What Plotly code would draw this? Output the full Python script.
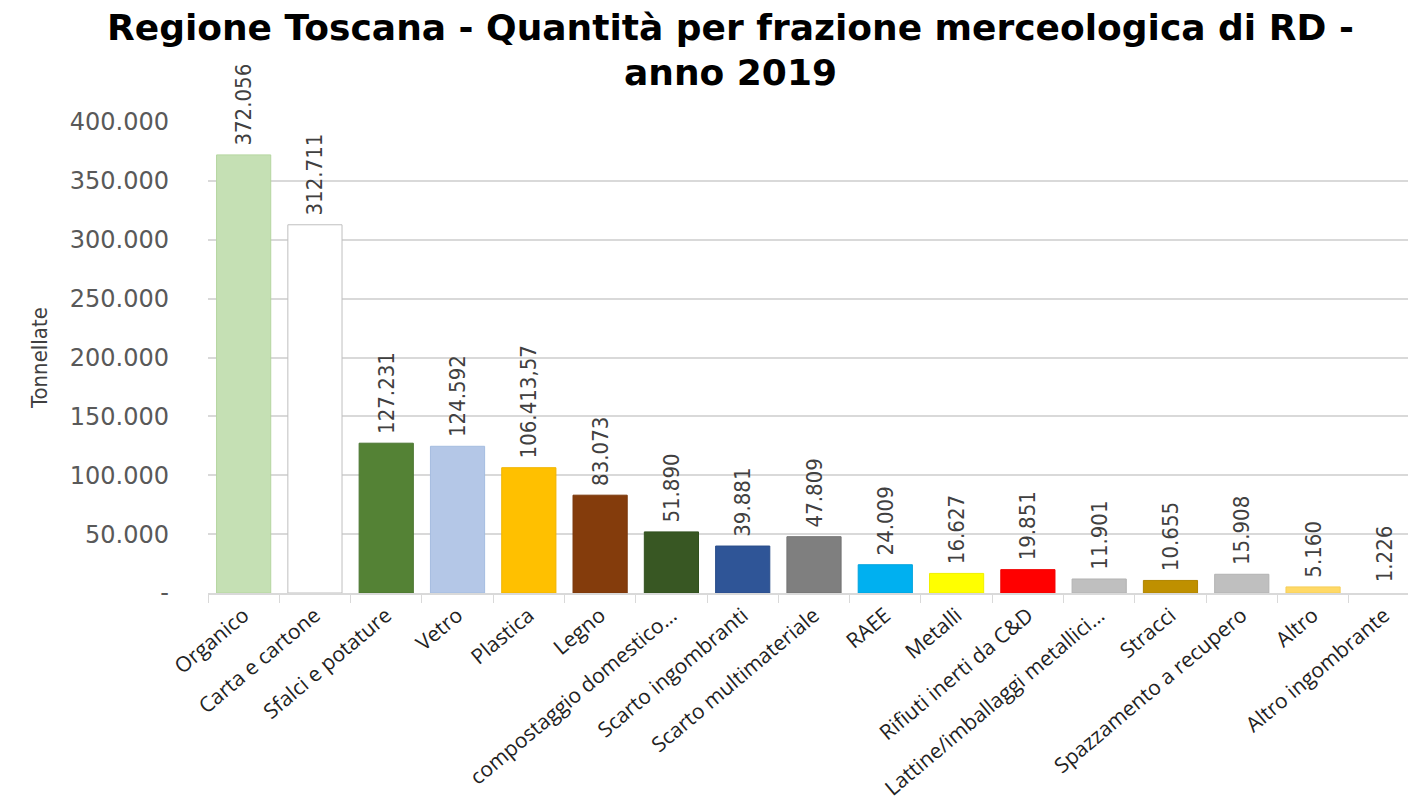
import plotly.graph_objects as go

categories = [
    "Organico", "Carta e cartone", "Sfalci e potature", "Vetro", "Plastica", "Legno",
    "compostaggio domestico…", "Scarto ingombranti", "Scarto multimateriale", "RAEE",
    "Metalli", "Rifiuti inerti da C&D", "Lattine/imballaggi metallici…", "Stracci",
    "Spazzamento a recupero", "Altro", "Altro ingombrante",
]
values = [372056, 312711, 127231, 124592, 106413.57, 83073, 51890, 39881, 47809,
          24009, 16627, 19851, 11901, 10655, 15908, 5160, 1226]
bar_colors = ["#c5e0b4", "#ffffff", "#548235", "#b4c7e7", "#ffc000", "#843c0c",
              "#385723", "#2f5597", "#7f7f7f", "#00b0f0", "#ffff00", "#ff0000",
              "#bfbfbf", "#bf9000", "#bfbfbf", "#ffd966", "#ffffff"]
line_colors = ["#b5d6a0", "#bfbfbf", "#4a7530", "#a5bde0", "#f0b400", "#7a370b",
               "#30501e", "#2a4d8a", "#737373", "#00a2dd", "#f0f000", "#f00000",
               "#b3b3b3", "#b08400", "#b3b3b3", "#f5cf5a", "#ffffff"]
y_tickvals = [0, 50000, 100000, 150000, 200000, 250000, 300000, 350000, 400000]
y_ticktext = ["-", "50.000", "100.000", "150.000", "200.000", "250.000",
              "300.000", "350.000", "400.000"]
title_lines = ["Regione Toscana - Quantità per frazione merceologica di RD -", "anno 2019"]


def it_fmt(v):
    if float(v).is_integer():
        return f"{int(v):,}".replace(",", ".")
    s = f"{v:,.2f}"
    return s.replace(",", "X").replace(".", ",").replace("X", ".")


labels = ["\u00a0" + it_fmt(v) for v in values]

fig = go.Figure(go.Bar(
    x=categories, y=values,
    marker=dict(color=bar_colors, line=dict(color=line_colors, width=1)),
    text=labels, textposition="outside", textangle=-90,
    constraintext="none", cliponaxis=False,
    textfont=dict(family="Liberation Sans Narrow, DejaVu Sans Condensed, Arial Narrow",
                  size=22, color="#404040"),
    hoverinfo="x+y",
))

# page body has an 8px default margin; offsets compensate for it
fig.update_layout(
    width=1416, height=803,
    paper_bgcolor="white", plot_bgcolor="white",
    margin=dict(l=200, r=4, t=114, b=218),
    bargap=0.24,
    showlegend=False,
    xaxis=dict(
        type="category",
        tickangle=-40,
        tickfont=dict(family="Open Sans", size=21, color="#222222"),
        showline=True, linecolor="#d9d9d9", linewidth=2,
        ticks="outside", tickson="boundaries", ticklen=8, tickcolor="#d9d9d9",
        showgrid=False, automargin=False,
    ),
    yaxis=dict(
        range=[0, 400000],
        tickvals=y_tickvals, ticktext=y_ticktext,
        tickfont=dict(family="DejaVu Sans", size=24, color="#595959"),
        showgrid=True, gridcolor="#d9d9d9", gridwidth=1.5,
        zeroline=False, showline=False,
        ticklabelstandoff=38,
        title=dict(text="Tonnellate", standoff=16,
                   font=dict(family="Liberation Sans Narrow, DejaVu Sans Condensed",
                             size=22, color="#404040")),
    ),
)

for line, ypx in zip(title_lines, [27, 72]):
    fig.add_annotation(
        text=f"<b>{line}</b>", xref="paper", yref="paper",
        x=(730 - 208) / 1210, y=(593 - ypx) / 471,
        xanchor="center", yanchor="middle", showarrow=False,
        font=dict(family="DejaVu Sans", size=36, color="#000000"),
    )

fig.write_html("out.html")
